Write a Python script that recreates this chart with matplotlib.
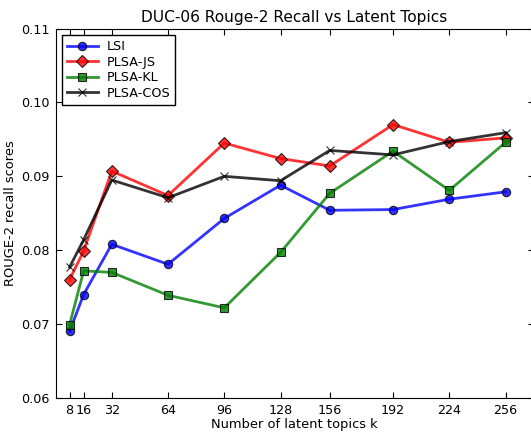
import matplotlib
matplotlib.use("Agg")
import matplotlib.pyplot as plt

topics = [8, 16, 32, 64, 96, 128, 156, 192, 224, 256]
lsi = [0.0690, 0.0740, 0.0808, 0.0781, 0.0843, 0.0888, 0.0854, 0.0855, 0.0869, 0.0879]
plsa_js = [0.0760, 0.0799, 0.0907, 0.0874, 0.0945, 0.0924, 0.0914, 0.0970, 0.0946, 0.0952]
plsa_kl = [0.0699, 0.0772, 0.0770, 0.0739, 0.0722, 0.0797, 0.0877, 0.0934, 0.0881, 0.0946]
plsa_cos = [0.0777, 0.0814, 0.0895, 0.0871, 0.0900, 0.0894, 0.0935, 0.0929, 0.0947, 0.0959]
yticks = [0.06, 0.07, 0.08, 0.09, 0.10, 0.11]

W, H = 531, 432
fig = plt.figure(figsize=(W / 100, H / 100), dpi=100)
left, bottom, top = 55.5, 398, 28.5
right = 533.5
ax = fig.add_axes([left / W, (H - bottom) / H, (right - left) / W, (bottom - top) / H])

kw = dict(linewidth=2, alpha=0.8, markersize=6, markeredgecolor='black', markeredgewidth=0.8)
ax.plot(topics, lsi, color='blue', marker='o', label='LSI', **kw)
ax.plot(topics, plsa_js, color='red', marker='D', label='PLSA-JS', **kw)
ax.plot(topics, plsa_kl, color='green', marker='s', label='PLSA-KL', **kw)
ax.plot(topics, plsa_cos, color='black', marker='x', label='PLSA-COS', **kw)

ax.set_xlim(0, (right - left) / 1.758)
ax.set_ylim(0.06, 0.11)
ax.set_xticks(topics)
ax.set_xticklabels([str(t) for t in topics])
ax.set_yticks(yticks)
ax.set_yticklabels(["%.2f" % v for v in yticks])
ax.tick_params(direction='in', top=True, right=True, labelsize=9.2, length=4, pad=4)
ax.set_xlabel('Number of latent topics k', fontsize=9.4, labelpad=1)
ax.set_ylabel('ROUGE-2 recall scores', fontsize=9.4, labelpad=3)
ax.set_title('DUC-06 Rouge-2 Recall vs Latent Topics', fontsize=11.1, pad=5)
leg = ax.legend(loc='upper left', fontsize=9.2, fancybox=False, edgecolor='black',
                framealpha=1, borderaxespad=0.5, handlelength=2.4, handletextpad=0.7,
                labelspacing=0.2, borderpad=0.4)
leg.get_frame().set_linewidth(1)
fig.savefig('out.png', dpi=100)
